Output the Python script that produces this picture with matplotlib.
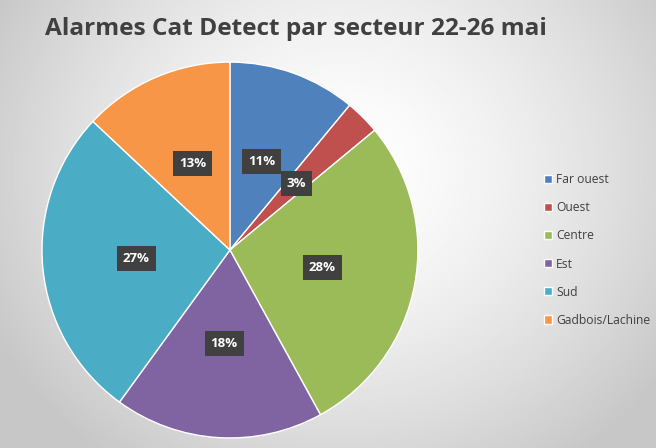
import matplotlib.pyplot as plt
import numpy as np

# données
secteurs = ["Far ouest", "Ouest", "Centre", "Est", "Sud", "Gadbois/Lachine"]
pourcentages = [11, 3, 28, 18, 27, 13]
couleurs = ["#4F81BD", "#C0504D", "#9BBB59", "#8064A2", "#4BACC6", "#F79646"]

plt.rcParams['font.family'] = ['Open Sans', 'DejaVu Sans']

fig = plt.figure(figsize=(6.56, 4.48), dpi=100)

# fond en dégradé radial
bg = fig.add_axes([0, 0, 1, 1])
yy, xx = np.mgrid[0:1:300j, 0:1:440j]
d = np.sqrt(((xx - 0.52) * 1.0) ** 2 + ((yy - 0.62) * 0.75) ** 2)
val = 1.0 - 0.22 * np.clip(d / 0.6, 0, 1) ** 1.5
bg.imshow(val, cmap='gray', vmin=0, vmax=1, extent=[0, 1, 0, 1], aspect='auto', origin='lower')
bg.axis('off')

ax = fig.add_axes([0.064, 0.0224, 0.573, 0.839])
wedges, texts, autotexts = ax.pie(
    pourcentages, colors=couleurs, startangle=90, counterclock=False,
    autopct='%d%%', pctdistance=0.5,
    wedgeprops=dict(edgecolor='white', linewidth=1.0))
for t in autotexts:
    t.set_color('white')
    t.set_fontweight('bold')
    t.set_fontsize(9.5)
    t.set_bbox(dict(boxstyle='square,pad=0.45', facecolor='#404040', edgecolor='none'))
ax.set_aspect('auto')
ax.set_xlim(-1, 1)
ax.set_ylim(-1, 1)

fig.text(0.068, 0.936, "Alarmes Cat Detect par secteur 22-26 mai",
         fontsize=17.6, fontweight='bold', color='#404040', va='center')

leg = fig.legend(wedges, secteurs, loc='center left', bbox_to_anchor=(0.813, 0.442),
                 frameon=False, fontsize=8.7, handlelength=0.65, handleheight=0.65,
                 handletextpad=0.35, labelspacing=1.25, labelcolor='#404040')

fig.savefig("out.png", dpi=100)
